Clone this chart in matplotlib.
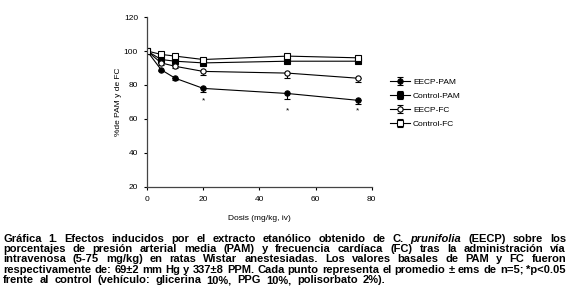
import matplotlib
matplotlib.use("Agg")
import matplotlib.pyplot as plt

doses = [0, 5, 10, 20, 50, 75]
eecp_pam = [100, 89, 84, 78, 75, 71]
eecp_pam_err = [0, 1, 1, 2, 3, 2]
control_pam = [100, 95, 94, 93, 94, 94]
control_pam_err = [0, 1, 1, 1, 1, 1]
eecp_fc = [100, 93, 91, 88, 87, 84]
eecp_fc_err = [0, 1, 1, 2, 3, 2]
control_fc = [100, 98, 97, 95, 97, 96]
control_fc_err = [0, 1, 1, 1, 1, 1]
star_x = [20, 50, 75]
star_y = [70.5, 64.5, 64.5]
yticks = [20, 40, 60, 80, 100, 120]
xticks = [0, 20, 40, 60, 80]

plt.rcParams['font.family'] = ['Liberation Sans', 'DejaVu Sans']

fig = plt.figure(figsize=(5.79, 3.04), dpi=100)
ax = fig.add_axes([0.254, 0.385, 0.388, 0.559])

series = [
    ("EECP-PAM", eecp_pam, eecp_pam_err, 'o', 'black'),
    ("Control-PAM", control_pam, control_pam_err, 's', 'black'),
    ("EECP-FC", eecp_fc, eecp_fc_err, 'o', 'white'),
    ("Control-FC", control_fc, control_fc_err, 's', 'white'),
]
for name, vals, err, m, fc in series:
    ax.errorbar(doses, vals, yerr=[err, [0]*len(err)], color='black', lw=0.8,
                marker=m, markersize=4.2 if m == 's' else 3.8, markerfacecolor=fc,
                markeredgecolor='black', markeredgewidth=0.8, capsize=2.5,
                elinewidth=0.8, label=name)
for sx, sy in zip(star_x, star_y):
    ax.text(sx, sy, '*', ha='center', va='center', fontsize=6)

ax.set_xlim(0, 80)
ax.set_ylim(20, 120)
ax.set_xticks(xticks)
ax.set_yticks(yticks)
ax.tick_params(labelsize=6, length=2.5, width=0.8, pad=4)
for s in ['top', 'right']:
    ax.spines[s].set_visible(False)
for s in ['left', 'bottom']:
    ax.spines[s].set_linewidth(0.9)
    ax.spines[s].set_color('#444444')
ax.set_ylabel('%de PAM y de FC', fontsize=6, labelpad=1.5)
ax.set_xlabel('Dosis (mg/kg, iv)', fontsize=6, labelpad=9)

leg = ax.legend(loc='upper left', bbox_to_anchor=(1.05, 0.685), frameon=False,
                fontsize=6, handlelength=2.4, labelspacing=0.74, handletextpad=0.3)

# Caption with justified lines
lines = [
    [("Gráfica 1. Efectos inducidos por el extracto etanólico obtenido de C. ", 'normal'), ("prunifolia", 'italic'), (" (EECP) sobre los", 'normal')],
    [("porcentajes de presión arterial media (PAM) y frecuencia cardíaca (FC) tras la administración vía", 'normal')],
    [("intravenosa (5-75 mg/kg) en ratas Wistar anestesiadas. Los valores basales de PAM y FC fueron", 'normal')],
    [("respectivamente de: 69±2 mm Hg y 337±8 PPM. Cada punto representa el promedio ± ems de n=5; *p<0.05", 'normal')],
    [("frente al control (vehículo: glicerina 10%, PPG 10%, polisorbato 2%).", 'normal')],
]
fig.canvas.draw()
renderer = fig.canvas.get_renderer()
left_px, right_px = 3, 566
W, H = fig.bbox.width, fig.bbox.height

# choose font size so the widest line fits with normal spacing
probe = fig.text(0, 0, lines[3][0][0], fontsize=10, fontweight='bold')
pw = probe.get_window_extent(renderer).width
probe.remove()
fs = min(8.0, 10 * (right_px - left_px - 2) / pw)

y0 = 241.5
dy = 10.4
for i, segs in enumerate(lines):
    words = []
    for text, style in segs:
        for w in text.split(' '):
            if w:
                words.append((w, style))
    ypx = y0 + i * dy
    texts = []
    widths = []
    for w, style in words:
        t = fig.text(0, 1 - ypx / H, w, fontsize=fs, fontweight='bold', style=style,
                     va='baseline', ha='left')
        bb = t.get_window_extent(renderer)
        texts.append(t)
        widths.append(bb.width)
    total = sum(widths)
    if i < len(lines) - 1 and len(words) > 1:
        gap = (right_px - left_px - total) / (len(words) - 1)
    else:
        gap = 5.4
    x = left_px
    for t, wd in zip(texts, widths):
        t.set_x(x / W)
        x += wd + gap

fig.savefig('out.png', dpi=100)
